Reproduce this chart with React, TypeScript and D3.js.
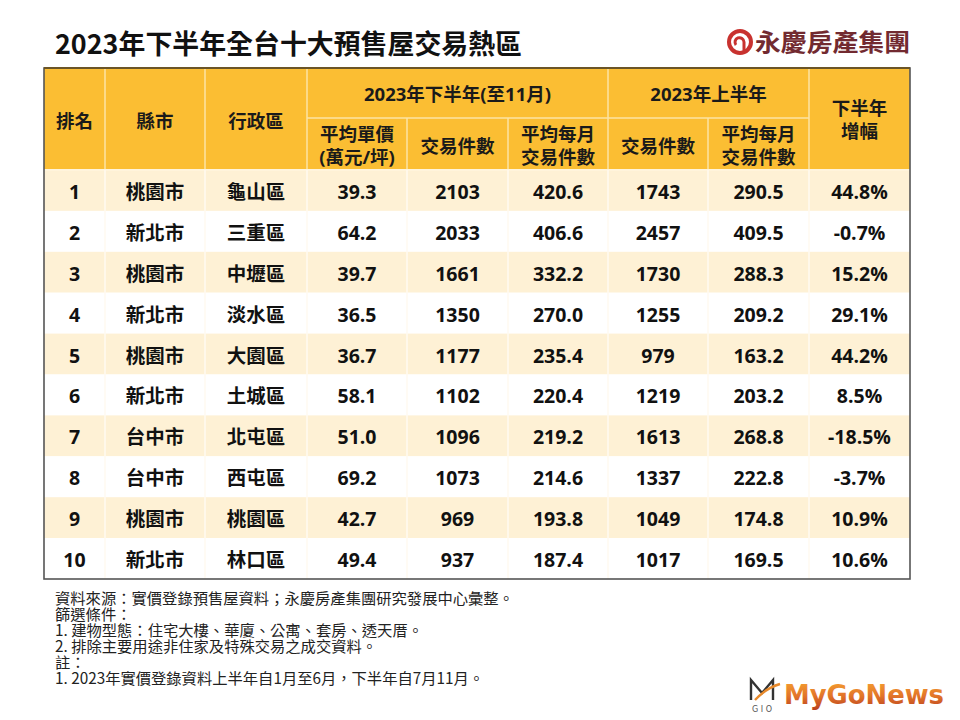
import React from "react";
import * as d3 from "d3";

const ranks = ["1", "2", "3", "4", "5", "6", "7", "8", "9", "10"];
const cities = ["桃園市", "新北市", "桃園市", "新北市", "桃園市", "新北市", "台中市", "台中市", "桃園市", "新北市"];
const districts = ["龜山區", "三重區", "中壢區", "淡水區", "大園區", "土城區", "北屯區", "西屯區", "桃園區", "林口區"];
const avgPrice = [39.3, 64.2, 39.7, 36.5, 36.7, 58.1, 51.0, 69.2, 42.7, 49.4];
const deals2H = [2103, 2033, 1661, 1350, 1177, 1102, 1096, 1073, 969, 937];
const monthly2H = [420.6, 406.6, 332.2, 270.0, 235.4, 220.4, 219.2, 214.6, 193.8, 187.4];
const deals1H = [1743, 2457, 1730, 1255, 979, 1219, 1613, 1337, 1049, 1017];
const monthly1H = [290.5, 409.5, 288.3, 209.2, 163.2, 203.2, 268.8, 222.8, 174.8, 169.5];
const growth = [44.8, -0.7, 15.2, 29.1, 44.2, 8.5, -18.5, -3.7, 10.9, 10.6];

const title = "2023年下半年全台十大預售屋交易熱區";
const brand = "永慶房產集團";
const footerLines = [
  "資料來源：實價登錄預售屋資料；永慶房產集團研究發展中心彙整。",
  "篩選條件：",
  "1. 建物型態：住宅大樓、華廈、公寓、套房、透天厝。",
  "2. 排除主要用途非住家及特殊交易之成交資料。",
  "註：",
  "1. 2023年實價登錄資料上半年自1月至6月，下半年自7月11月。",
];

const W = 960;
const H = 720;
const colEdges = [44, 105, 205, 307, 407, 508, 608, 708, 809, 910];
const headTop = 68;
const headMid = 118;
const headBot = 170;
const tableBot = 579;

const HEAD_BG = "#fbbe33";
const CREAM = "#fef1d5";
const SEP = "#fde3a4";
const FONT = "'Open Sans', 'Noto Sans CJK TC', sans-serif";
const CJK = "'Noto Sans CJK TC', sans-serif";

const loc = d3.formatLocale({ decimal: ".", thousands: ",", grouping: [3], currency: ["", ""], minus: "-" });
const fmt1 = loc.format(".1f");

export default function App() {
  const y = d3.scaleBand<string>().domain(ranks).range([headBot, tableBot]).padding(0);
  const cx = (i: number) => (colEdges[i] + colEdges[i + 1]) / 2;
  const rows = ranks.map((r, i) => [
    r,
    cities[i],
    districts[i],
    fmt1(avgPrice[i]),
    String(deals2H[i]),
    fmt1(monthly2H[i]),
    String(deals1H[i]),
    fmt1(monthly1H[i]),
    fmt1(growth[i]) + "%",
  ]);

  const headTxt = {
    fontFamily: FONT,
    fontWeight: 700,
    fontSize: 18.5,
    fill: "#1a1a1a",
    textAnchor: "middle" as const,
    dominantBaseline: "central" as const,
  };

  return (
    <svg width={W} height={H} style={{ position: "absolute", left: 0, top: 0, background: "#fff" }}>
      <rect x={0} y={0} width={W} height={H} fill="#fff" />
      {/* Title */}
      <text x={55} y={54} fontFamily={CJK} fontWeight={700} fontSize={27} fill="#111" textLength={467} lengthAdjust="spacingAndGlyphs">
        {title}
      </text>
      {/* Brand logo */}
      <g>
        <circle cx={740} cy={42} r={11} fill="none" stroke="#c8322f" strokeWidth={4} />
        <path d="M736,45 a4.5,4.5 0 1,1 8,-3 l0,9" fill="none" stroke="#c8322f" strokeWidth={3} />
        <text x={755} y={51} fontFamily={CJK} fontWeight={700} fontSize={24} fill="#722a30" textLength={155} lengthAdjust="spacingAndGlyphs">
          {brand}
        </text>
      </g>

      {/* Header background */}
      <rect x={colEdges[0]} y={headTop} width={colEdges[9] - colEdges[0]} height={headBot - headTop} fill={HEAD_BG} />
      {/* Data rows */}
      {ranks.map((r, i) => (
        <rect key={r} x={colEdges[0]} y={y(r)!} width={colEdges[9] - colEdges[0]} height={y.bandwidth()} fill={i % 2 === 0 ? CREAM : "#ffffff"} />
      ))}
      {/* header separators */}
      {colEdges.slice(1, 9).map((x, i) => {
        const k = i + 1;
        const top = k === 4 || k === 5 || k === 7 ? headMid : headTop;
        return <line key={"hs" + k} x1={x} x2={x} y1={top} y2={headBot} stroke={SEP} strokeWidth={1.5} />;
      })}
      <line x1={colEdges[3]} x2={colEdges[8]} y1={headMid} y2={headMid} stroke={SEP} strokeWidth={1.5} />
      <line x1={colEdges[0]} x2={colEdges[9]} y1={headBot} y2={headBot} stroke="#fff4dc" strokeWidth={2} />
      {/* data separators */}
      {colEdges.slice(1, 9).map((x, i) => (
        <line key={"ds" + i} x1={x} x2={x} y1={headBot} y2={tableBot} stroke="#fffaf0" strokeWidth={1.5} />
      ))}

      {/* Header texts */}
      <text {...headTxt} x={cx(0)} y={120}>排名</text>
      <text {...headTxt} x={cx(1)} y={120}>縣市</text>
      <text {...headTxt} x={cx(2)} y={120}>行政區</text>
      <text {...headTxt} x={(colEdges[3] + colEdges[6]) / 2} y={93}>2023年下半年(至11月)</text>
      <text {...headTxt} x={(colEdges[6] + colEdges[8]) / 2} y={93}>2023年上半年</text>
      <text {...headTxt} x={cx(8)} y={107}>下半年</text>
      <text {...headTxt} x={cx(8)} y={130}>增幅</text>
      <text {...headTxt} x={cx(3)} y={133}>平均單價</text>
      <text {...headTxt} x={cx(3)} y={156}>(萬元/坪)</text>
      <text {...headTxt} x={cx(4)} y={145}>交易件數</text>
      <text {...headTxt} x={cx(5)} y={133}>平均每月</text>
      <text {...headTxt} x={cx(5)} y={156}>交易件數</text>
      <text {...headTxt} x={cx(6)} y={145}>交易件數</text>
      <text {...headTxt} x={cx(7)} y={133}>平均每月</text>
      <text {...headTxt} x={cx(7)} y={156}>交易件數</text>

      {/* Data texts */}
      {rows.map((row, i) => (
        <g key={"r" + i}>
          {row.map((v, j) => (
            <text
              key={j}
              x={cx(j)}
              y={y(ranks[i])! + y.bandwidth() / 2 + 1}
              fontFamily={FONT}
              fontWeight={700}
              fontSize={19.5}
              fill="#111"
              textAnchor="middle"
              dominantBaseline="central"
            >
              {v}
            </text>
          ))}
        </g>
      ))}

      {/* Table border */}
      <rect x={colEdges[0]} y={headTop} width={colEdges[9] - colEdges[0]} height={tableBot - headTop} fill="none" stroke="#555" strokeWidth={1.6} />
      <line x1={colEdges[0]} x2={colEdges[9]} y1={headTop} y2={headTop} stroke="#6b5526" strokeWidth={1.8} />

      {/* Footer */}
      <text x={55} y={604} fontFamily={CJK} fontSize={15.3} fill="#222">
        {footerLines.map((t, i) => (
          <tspan key={"f" + i} x={55} dy={i === 0 ? 0 : 16}>
            {t}
          </tspan>
        ))}
      </text>

      {/* MyGoNews logo */}
      <defs>
        <linearGradient id="mgn" x1="0" y1="0" x2="0" y2="1">
          <stop offset="0" stopColor="#f7a531" />
          <stop offset="0.55" stopColor="#e2742a" />
          <stop offset="1" stopColor="#b8401d" />
        </linearGradient>
      </defs>
      <g>
        <path d="M751,700 L751,680 L762,693 L773,680 L773,700" fill="none" stroke="#333" strokeWidth={2.4} />
        <path d="M755,700 Q766,688 780,684" fill="none" stroke="#e88a2c" strokeWidth={2.4} />
        <text x={762} y={712} fontFamily="DejaVu Sans" fontSize={8} fill="#555" textAnchor="middle">G I O</text>
        <text x={784} y={704} fontFamily="'DejaVu Sans', Verdana, sans-serif" fontWeight={700} fontSize={27} fill="url(#mgn)" textLength={160} lengthAdjust="spacingAndGlyphs">
          MyGoNews
        </text>
      </g>
    </svg>
  );
}
